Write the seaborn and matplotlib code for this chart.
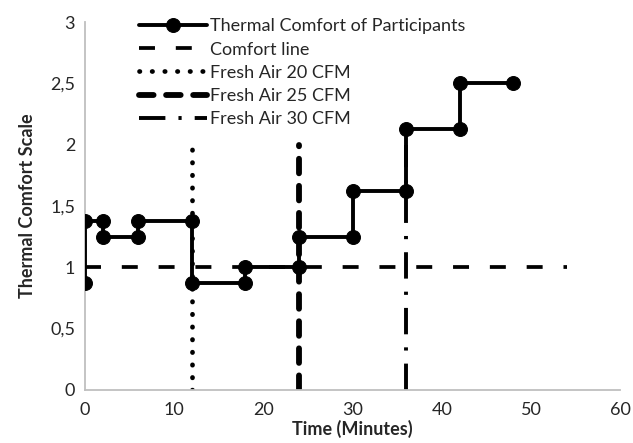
import numpy as np
import pandas as pd
import matplotlib
matplotlib.use('Agg')
import matplotlib.pyplot as plt
import seaborn as sns

# Datos
time_min = [0, 0, 2, 2, 6, 6, 12, 12, 18, 18, 24, 24, 30, 30, 36, 36, 42, 42, 48]
comfort = [0.875, 1.375, 1.375, 1.25, 1.25, 1.375, 1.375, 0.875, 0.875, 1.0, 1.0,
           1.25, 1.25, 1.625, 1.625, 2.125, 2.125, 2.5, 2.5]
comfort_x = [0, 54]
comfort_y = [1, 1]
fresh_air_x = [12, 24, 36]
fresh_air_top = 2
fresh_air_labels = ['Fresh Air 20 CFM', 'Fresh Air 25 CFM', 'Fresh Air 30 CFM']
x_ticks = [0, 10, 20, 30, 40, 50, 60]
y_ticks = [0, 0.5, 1, 1.5, 2, 2.5, 3]

sns.set_style('white')
plt.rcParams['font.family'] = ['Lato', 'DejaVu Sans']
plt.rcParams['lines.scale_dashes'] = False

fig = plt.figure(figsize=(6.33, 4.43), dpi=100)
ax = fig.add_axes([0.134, 0.12, 0.846, 0.83])

df = pd.DataFrame({'t': time_min, 'c': comfort})

# Lineas de aire fresco
styles = [
    dict(lw=3.4, dashes=(0.3, 8.8), dash_capstyle='round'),
    dict(lw=4.2, dashes=(10.5, 9.0), dash_capstyle='round'),
    dict(lw=2.8, dashes=(19, 9.4, 2.3, 9.4), dash_capstyle='butt'),
]

# Linea de confort
ax.plot(comfort_x, comfort_y, color='black', lw=2.7, dashes=(11.5, 15),
        label='Comfort line', zorder=2)

for xv, lab, st in zip(fresh_air_x, fresh_air_labels, styles):
    ax.plot([xv, xv], [0, fresh_air_top], color='black', label=lab, zorder=2, **st)

sns.lineplot(data=df, x='t', y='c', sort=False, estimator=None, ax=ax,
             color='black', lw=2.8, marker='o', markersize=10,
             markeredgecolor='black', label='Thermal Comfort of Participants', zorder=3)

ax.set_xlim(0, 60)
ax.set_ylim(0, 3)
ax.set_xticks(x_ticks)
ax.set_yticks(y_ticks)
ax.set_yticklabels([('%g' % v).replace('.', ',') for v in y_ticks])
ax.tick_params(axis='both', length=0, labelsize=13)
ax.tick_params(axis='x', pad=9)
ax.tick_params(axis='y', pad=7)

for s in ['top', 'right']:
    ax.spines[s].set_visible(False)
for s in ['left', 'bottom']:
    ax.spines[s].set_color('#bfbfbf')
    ax.spines[s].set_linewidth(1.3)

ax.set_xlabel('Time (Minutes)', fontsize=13, fontweight='bold', labelpad=1)
ax.set_ylabel('Thermal Comfort Scale', fontsize=13, fontweight='bold', labelpad=10)

handles, labels = ax.get_legend_handles_labels()
order = [labels.index('Thermal Comfort of Participants'), labels.index('Comfort line')] + \
        [labels.index(l) for l in fresh_air_labels]
ax.legend([handles[i] for i in order], [labels[i] for i in order],
          loc='upper left', bbox_to_anchor=(0.208, 0.975), bbox_transform=fig.transFigure,
          frameon=False, fontsize=13, handlelength=3.8, handletextpad=0.15,
          labelspacing=0.4, borderaxespad=0)

fig.savefig('out.png', dpi=100)
